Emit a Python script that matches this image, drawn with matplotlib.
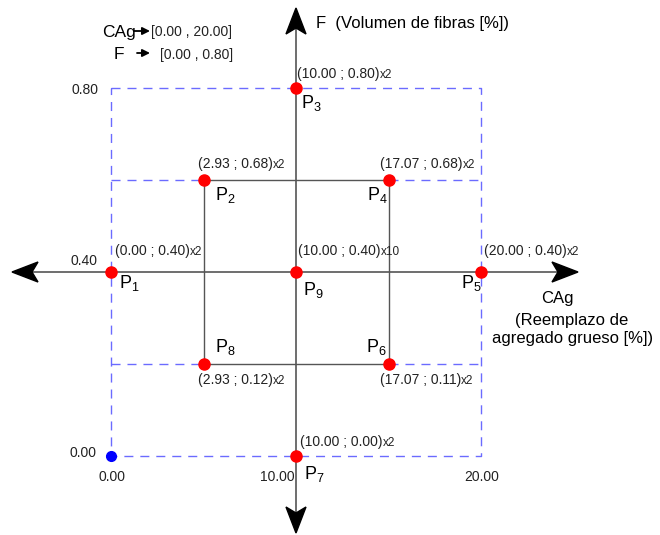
import numpy as np
import matplotlib
matplotlib.use('Agg')
import matplotlib.pyplot as plt
from matplotlib.patches import Polygon

plt.rcParams['font.family'] = ['Liberation Sans', 'DejaVu Sans']
plt.rcParams['mathtext.fontset'] = 'custom'
plt.rcParams['mathtext.rm'] = 'Liberation Sans'
plt.rcParams['mathtext.it'] = 'Liberation Sans'
plt.rcParams['lines.scale_dashes'] = False

DPI = 100
W, H = 660, 535

# design runs (central composite design)
run_names = ['P1', 'P2', 'P3', 'P4', 'P5', 'P6', 'P7', 'P8', 'P9']
cag_values = [0.00, 2.93, 10.00, 17.07, 20.00, 17.07, 10.00, 2.93, 10.00]
f_values = [0.40, 0.68, 0.80, 0.68, 0.40, 0.11, 0.00, 0.12, 0.40]
replicates = [2, 2, 2, 2, 2, 2, 2, 2, 10]
# coded design level of each run (schematic position)
cag_level = [-2, -1, 0, 1, 2, 1, 0, -1, 0]
f_level = [0, 1, 2, 1, 0, -1, -2, -1, 0]

cag_ticks = ['0.00', '10.00', '20.00']
cag_tick_level = [-2, 0, 2]
f_ticks = ['0.80', '0.40', '0.00']
f_tick_level = [2, 0, -2]

cag_range = '[0.00 , 20.00]'
f_range = '[0.00 , 0.80]'

# pixel geometry: center of the diagram and pixels per coded unit
CX, CY = 296, 272
UX, UY = 92.5, 92.0

fig = plt.figure(figsize=(W / DPI, H / DPI), dpi=DPI)
ax = fig.add_axes([0, 0, 1, 1])
ax.set_xlim(-CX / UX, (W - CX) / UX)
ax.set_ylim((CY - H) / UY, CY / UY)
ax.axis('off')


def pt(px):
    return px * 72.0 / DPI


def figpos(x, y):
    return x / W, 1 - y / H


blue = '#6b6bff'
gray = '#555555'

# outer dashed frame and inner dashed guides
dash = dict(color=blue, lw=1.0, dashes=(6.5, 5), zorder=1)
ax.plot([-2, 2, 2, -2, -2], [2, 2, -2, -2, 2], **dash)
for y in (1, -1):
    ax.plot([-2, -1], [y, y], **dash)
    ax.plot([1, 2], [y, y], **dash)

# solid inner square
ax.plot([-1, 1, 1, -1, -1], [1, 1, -1, -1, 1], color=gray, lw=1.0, zorder=2)

# main axes with notched arrowheads
x_left, x_right = (12 - CX) / UX, (578 - CX) / UX
y_top, y_bottom = (CY - 8) / UY, (CY - 533) / UY
ax.plot([x_left + 0.1, x_right - 0.1], [0, 0], color=gray, lw=1.2, zorder=2)
ax.plot([0, 0], [y_bottom + 0.1, y_top - 0.1], color=gray, lw=1.2, zorder=2)


def head(tip, direction):
    L, Wd, N = 26, 10, 6
    d = np.array(direction, float)
    n = np.array([-d[1], d[0]])
    tp = np.array(tip, float)
    pts = [tp, tp - L * d + Wd * n, tp - (L - N) * d, tp - L * d - Wd * n]
    # pixel offsets to data units
    pts = [(p[0] / UX, p[1] / UY) for p in pts]
    ax.add_patch(Polygon(pts, closed=True, color='black', zorder=4))


head((x_left * UX, 0), (-1, 0))
head((x_right * UX, 0), (1, 0))
head((0, y_top * UY), (0, 1))
head((0, y_bottom * UY), (0, -1))

# runs
ax.plot(cag_level, f_level, 'o', color='red', ms=8, mec='red', ls='none', zorder=5)
ax.plot([-2], [-2], 'o', color='blue', ms=7, zorder=5)

# label offsets in pixels (dx, dy) for the coordinates and the run name
coord_off = [(4, 17), (-6, 12), (1, 10), (-9, 12), (3, 17), (-9, -20), (4, 10), (-6, -20), (2, 17)]
name_off = [(8, -16), (11, -20), (5, -20), (-22, -20), (-20, -16), (-23, 12), (8, -23), (11, 12), (7, -23)]

for i in range(len(run_names)):
    x, y = cag_level[i], f_level[i]
    dx, dy = coord_off[i]
    t = ax.annotate(f'({cag_values[i]:.2f} ; {f_values[i]:.2f})', (x, y),
                    xytext=(pt(dx), pt(dy)), textcoords='offset points',
                    ha='left', va='baseline', fontsize=10, color='#222222', zorder=6)
    ax.annotate(f'x{replicates[i]}', xy=(1, 0), xycoords=t, xytext=(0.3, 0.3),
                textcoords='offset points', ha='left', va='bottom',
                fontsize=8.5, color='#222222', zorder=6)
    dx, dy = name_off[i]
    ax.annotate(f'$\\mathregular{{P_{run_names[i][1:]}}}$', (x, y),
                xytext=(pt(dx), pt(dy)), textcoords='offset points',
                ha='left', va='baseline', fontsize=13, color='black', zorder=6)

# tick labels
f_tick_off = [(-13, -6), (-14, 7), (-15, -1)]
for lab, lev, (dx, dy) in zip(f_ticks, f_tick_level, f_tick_off):
    ax.annotate(lab, (-2, lev), xytext=(pt(dx), pt(dy)), textcoords='offset points',
                ha='right', va='baseline', fontsize=10, color='#222222')
cag_tick_off = [(1, -25), (-19, -25), (1, -25)]
for lab, lev, (dx, dy) in zip(cag_ticks, cag_tick_level, cag_tick_off):
    ax.annotate(lab, (lev, -2), xytext=(pt(dx), pt(dy)), textcoords='offset points',
                ha='center', va='baseline', fontsize=10, color='#222222')

# axis titles
fig.text(*figpos(316, 28), 'F  (Volumen de fibras [%])', fontsize=12, ha='left', va='baseline')
fig.text(*figpos(557, 303), 'CAg', fontsize=12, ha='center', va='baseline')
fig.text(*figpos(572, 325), '(Reemplazo de', fontsize=12, ha='center', va='baseline')
fig.text(*figpos(573, 343), 'agregado grueso [%])', fontsize=12, ha='center', va='baseline')

# ranges legend
fig.text(*figpos(102, 37), 'CAg', fontsize=12.5, ha='left', va='baseline')
fig.text(*figpos(151, 36), cag_range, fontsize=10, ha='left', va='baseline', color='#222222')
fig.text(*figpos(114, 59), 'F', fontsize=12.5, ha='left', va='baseline')
fig.text(*figpos(160, 59), f_range, fontsize=10, ha='left', va='baseline', color='#222222')
for (x0, x1, y) in [(134, 150, 31), (137, 150, 53)]:
    ax.annotate('', xy=figpos(x1, y), xycoords='figure fraction',
                xytext=figpos(x0, y), textcoords='figure fraction',
                arrowprops=dict(arrowstyle='-|>', color='black', lw=1.3,
                                mutation_scale=11, shrinkA=0, shrinkB=0))

fig.savefig('out.png', dpi=DPI, facecolor='white')
